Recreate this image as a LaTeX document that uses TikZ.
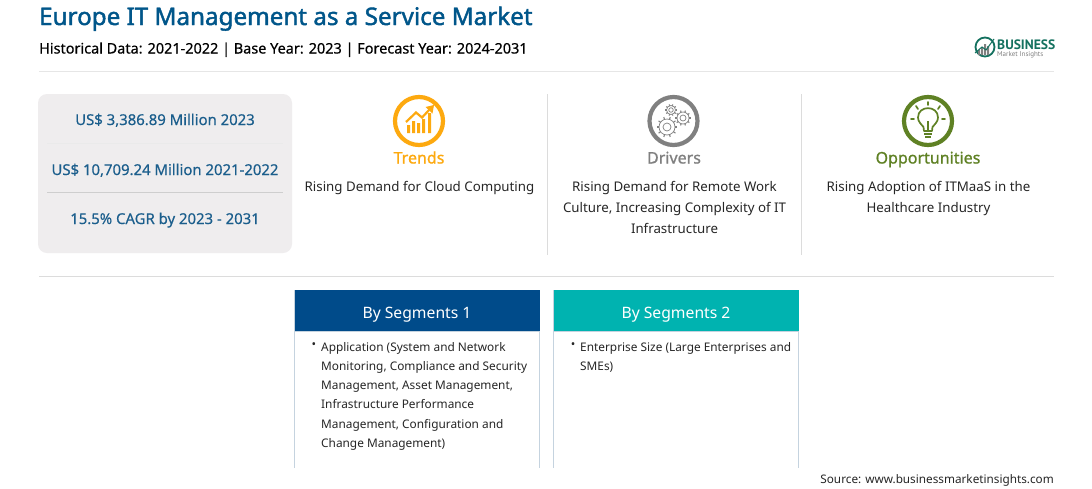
\documentclass[tikz,border=0pt]{standalone}
\usepackage{fontspec}
\setmainfont{Noto Sans}
\newfontfamily\condfont{PT Sans}
\newfontfamily\semif[FakeBold=0.35]{Noto Sans}
\newfontfamily\midf[FakeBold=1.0]{Noto Sans}
\newfontfamily\boldf[FakeBold=1.7]{Noto Sans}
\definecolor{titleblue}{HTML}{00568A}
\definecolor{statblue}{HTML}{1B5E8C}
\definecolor{panelgrey}{HTML}{EFEDEE}
\definecolor{rulegrey}{HTML}{DCDCDC}
\definecolor{trendor}{HTML}{FDA90F}
\definecolor{drivegrey}{HTML}{808080}
\definecolor{oppgreen}{HTML}{5F8124}
\definecolor{seg1}{HTML}{004B8A}
\definecolor{seg2}{HTML}{00B3B0}
\definecolor{segedge}{HTML}{C5D3DF}
\definecolor{logogreen}{HTML}{14715F}
\definecolor{bodytext}{HTML}{262626}
\tikzset{
  x=1pt,y=-1pt,
  stat/.style={font=\semif\fontsize{14.9}{17}\selectfont,text=statblue,anchor=base,inner sep=0},
  head/.style={font=\midf\fontsize{16}{19}\selectfont,anchor=base,inner sep=0},
  body/.style={font=\fontsize{13.3}{21}\selectfont,text=bodytext,align=center,anchor=north,inner sep=0},
  list/.style={font=\fontsize{11.85}{19.2}\selectfont,text=bodytext,align=left,anchor=north west,inner sep=0},
  seghead/.style={font=\fontsize{15.7}{19}\selectfont,text=white,anchor=base,inner sep=0},
  sep/.style={draw=rulegrey,line width=0.8pt},
  segline/.style={draw=segedge,line width=0.8pt},
  ring/.style={line width=4.2pt,fill=none},
}
\newcommand{\gearshape}[4]{% x y r colour
  \begin{scope}[shift={(#1,#2)}]
    \foreach \a in {0,36,...,324}{
      \draw[#4,line width=1.1pt] (\a:#3) -- (\a:#3*1.3);
    }
    \draw[#4,line width=0.7pt] (0,0) circle[radius=#3];
    \draw[#4,line width=0.7pt] (0,0) circle[radius=#3*0.5];
  \end{scope}}
\begin{document}
\begin{tikzpicture}
\useasboundingbox (0,0) rectangle (1092,488);
\fill[white] (0,0) rectangle (1092,488);
% header
\node[font=\boldf\fontsize{24.2}{26}\selectfont,text=titleblue,anchor=base west,inner sep=0] (title) at (39,25) {Europe IT Management as a Service Market};
\node[font=\semif\fontsize{14.45}{16}\selectfont,text=black,anchor=base west,inner sep=0] (hist) at (39,53.5) {Historical Data: 2021-2022 | Base Year: 2023 | Forecast Year: 2024-2031};
\draw[draw=rulegrey!70,line width=0.7pt] (39,71) -- (1054,71);
\draw[draw=rulegrey,line width=0.7pt] (39,276) -- (1054,276);
% logo
\draw[logogreen,line width=1.8pt] (985,47) circle[radius=9.5];
\fill[gray] (978,55) rectangle (980,50) (981,55) rectangle (983,47) (984,55) rectangle (986,44) (987,55) rectangle (989,46);
\draw[logogreen,line width=1pt] (975,53) -- (982,47) -- (986,50) -- (994,39);
\node[font=\fontsize{13.6}{14}\selectfont\bfseries,text=logogreen,anchor=base west,inner sep=0] (logoa) at (997,49) {\condfont BUSINESS};
\node[font=\fontsize{7}{8}\selectfont,text=gray,anchor=base west,inner sep=0] (logob) at (997,56.5) {\condfont Market Insights};
% panel
\fill[panelgrey] (38,94) [rounded corners=9pt] rectangle (292,253);
\node[stat] (s1) at (165,125) {US\$ 3,386.89 Million 2023};
\node[stat] (s2) at (165,175) {US\$ 10,709.24 Million 2021-2022};
\node[stat] (s3) at (165,224) {15.5\% CAGR by 2023 - 2031};
\draw[draw=rulegrey!60,line width=0.6pt] (47,143) -- (283,143);
\draw[draw=rulegrey!140,line width=0.6pt] (47,192) -- (283,192);
% vertical rules
\draw[sep] (547,94) -- (547,255);
\draw[sep] (801,94) -- (801,255);
% trends icon
\draw[trendor,ring] (419,121) circle[radius=24];
\fill[trendor] (407,133) rectangle (410,125) (412,133) rectangle (415,121) (417,133) rectangle (420,123) (422,133) rectangle (425,119) (428,133) rectangle (431,113);
\draw[trendor,line width=2.2pt] (406,122) -- (416,112.5) -- (422,117.5) -- (431,108);
\fill[trendor] (434,105) -- (425.5,107) -- (432.5,113.5) -- cycle;
\node[head,text=trendor] (trends) at (419,163.5) {Trends};
\node[body] (ttext) at (419.5,181) {Rising Demand for Cloud Computing};
% drivers icon
\draw[drivegrey,ring] (673.5,121) circle[radius=24];
\gearshape{667}{127}{8}{drivegrey}
\gearshape{683}{118}{6}{drivegrey}
\gearshape{671}{110}{4.5}{drivegrey}
\node[head,text=drivegrey] (drivers) at (674,163.5) {Drivers};
\node[body] (dtext) at (674.5,181) {Rising Demand for Remote Work\\Culture, Increasing Complexity of IT\\Infrastructure};
% opportunities icon
\draw[oppgreen,ring] (928,121) circle[radius=24];
\draw[oppgreen,line width=1.7pt,line join=round] (924,131) -- (923.5,127) .. controls (921,124) and (918,121.5) .. (918,117.5) .. controls (918,105) and (938,105) .. (938,117.5) .. controls (938,121.5) and (935,124) .. (932.5,127) -- (932,131) -- cycle;
\draw[oppgreen,line width=1.7pt] (924,134) -- (932,134) (925,137) -- (931,137) (928,131) -- (928,121);
\draw[oppgreen,line width=1.7pt,line cap=round] (928,102) -- (928,105) (916,106) -- (918,109) (940,106) -- (938,109) (911,119) -- (914,119) (942,119) -- (945,119);
\node[head,text=oppgreen] (opp) at (928,163.5) {Opportunities};
\node[body] (otext) at (928.5,181) {Rising Adoption of ITMaaS in the\\Healthcare Industry};
% segments
\draw[segline] (294.5,290) -- (294.5,468) (539.5,290) -- (539.5,468);
\draw[segline] (553.5,290) -- (553.5,468) (798.5,290) -- (798.5,468);
\fill[seg1] (294.5,290) rectangle (539.5,331);
\fill[seg2] (553.5,290) rectangle (798.5,331);
\draw[segline] (294.5,331) -- (539.5,331) (553.5,331) -- (798.5,331);
\node[seghead] (h1) at (417,318) {By Segments 1};
\node[seghead] (h2) at (676,318) {By Segments 2};
\node[font=\fontsize{12}{12}\selectfont,text=bodytext,anchor=center,inner sep=0] (b1) at (314,346) {•};
\node[list] (l1) at (321,342) {Application (System and Network\\Monitoring, Compliance and Security\\Management, Asset Management,\\Infrastructure Performance\\Management, Configuration and\\Change Management)};
\node[font=\fontsize{12}{12}\selectfont,text=bodytext,anchor=center,inner sep=0] (b2) at (573,346) {•};
\node[list] (l2) at (580,342) {Enterprise Size (Large Enterprises and\\SMEs)};
\node[font=\fontsize{11.75}{14}\selectfont,text=bodytext,anchor=base east,inner sep=0] (src) at (1054,483) {Source: www.businessmarketinsights.com};
\end{tikzpicture}
\end{document}
